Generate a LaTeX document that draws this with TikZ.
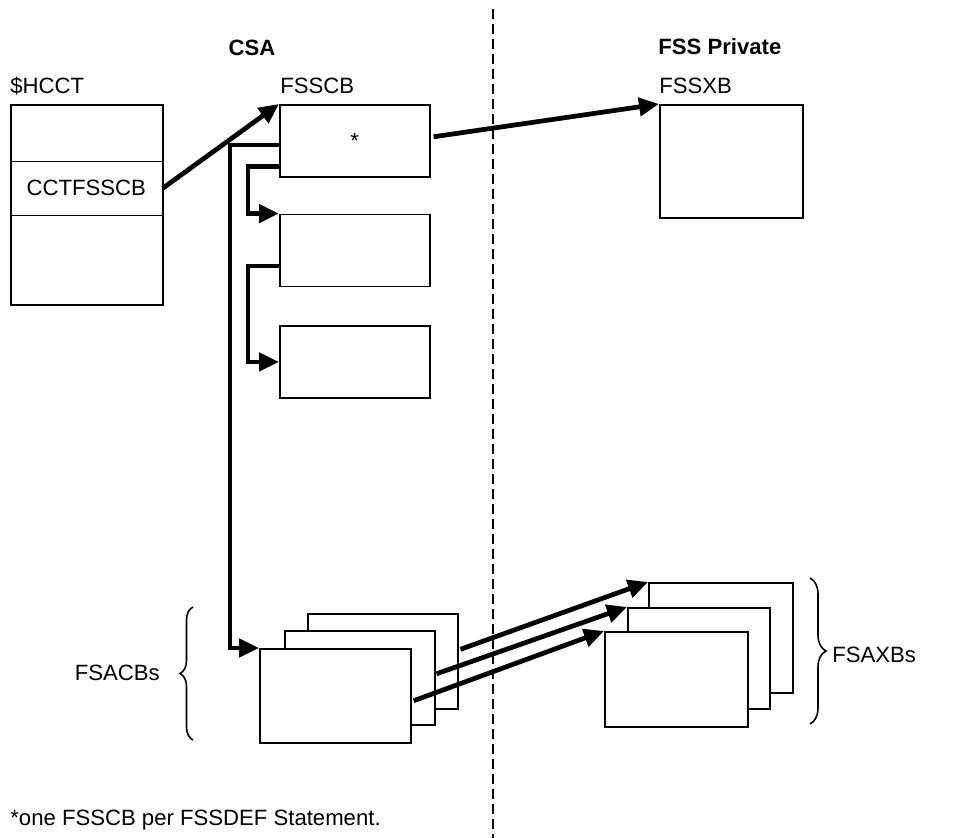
\documentclass[tikz,border=0pt]{standalone}
\usepackage{fontspec}
\setmainfont{Liberation Sans}
\usetikzlibrary{positioning,arrows.meta,decorations.pathreplacing}
\newcommand{\figfont}{\fontsize{12.6pt}{15pt}\selectfont}

\begin{document}
\begin{tikzpicture}[x=0.02cm, y=-0.02cm,
        font=\figfont,
        box/.style={draw, line width=0.9pt, fill=white, inner sep=0pt,
            minimum width=3cm, minimum height=1.44cm, anchor=north west},
        ptr/.style={line width=2.7pt, -{Triangle[length=4mm, width=3.6mm]}},
        lbl/.style={inner sep=0pt, anchor=base west},
        head/.style={font=\figfont\bfseries, inner sep=0pt},
        brc/.style={decorate, line width=0.9pt}]
        \useasboundingbox (0,0) rectangle (954,838);

        % Labels
        \node[head] (csa) at (252, 48) {CSA};
        \node[head, anchor=west] (fsspriv) at (658, 47) {FSS Private};
        \node[lbl] (hcctlbl) at (10, 94) {\$HCCT};
        \node[lbl] (fsscblbl) at (280, 94) {FSSCB};
        \node[lbl] (fssxblbl) at (659, 94) {FSSXB};
        \node[lbl] (note) at (10, 825) {*one FSSCB per FSSDEF Statement.};

        % Boundary
        \draw[line width=0.8pt, dash pattern=on 2mm off 1mm] (493, 9) -- (493, 838);

        % $HCCT
        \node[box, minimum width=3.04cm, minimum height=4cm] (hcct) at (10, 104) {};
        \node[anchor=north west, inner sep=0pt, minimum width=3.04cm,
            minimum height=1.08cm] (cctfsscb) at (10, 161) {CCTFSSCB};
        \draw[line width=0.5pt] (cctfsscb.north west) -- (cctfsscb.north east);
        \draw[line width=0.5pt] (cctfsscb.south west) -- (cctfsscb.south east);

        % FSSCB chain
        \node[box] (fsscb) at (279, 104) {*};
        \node[box, anchor=north, below=0.72cm of fsscb] (fsscbNext) {};
        \node[box, anchor=north, below=0.76cm of fsscbNext] (fsscbLast) {};

        % FSSXB
        \node[box, minimum width=2.86cm, minimum height=2.26cm] (fssxb) at (659, 104) {};

        % FSACBs
        \node[box, minimum height=1.9cm] (acbBack) at (307, 613) {};
        \node[box, minimum height=1.88cm] (acbMid) at (284, 630) {};
        \node[box, minimum width=3.02cm, minimum height=1.88cm] (acbFront) at (259, 648) {};
        \draw[brc, decoration={brace, amplitude=0.26cm}] (193, 740) -- (193, 607);
        \node[anchor=east, inner sep=0pt] (fsacbs) at (160, 673) {FSACBs};

        % FSAXBs
        \node[box, minimum width=2.88cm, minimum height=2.2cm] (axbBack) at (648, 582) {};
        \node[box, minimum width=2.84cm, minimum height=2.02cm] (axbMid) at (627, 607) {};
        \node[box, minimum width=2.86cm, minimum height=1.9cm] (axbFront) at (604, 631) {};
        \draw[brc, decoration={brace, amplitude=0.32cm}] (810, 578) -- (810, 724);
        \node[anchor=west, inner sep=0pt] (fsaxbs) at (832, 655) {FSAXBs};

        % Pointers
        \draw[ptr] (cctfsscb.east) -- (fsscb.north west);
        \draw[ptr] ([shift={(3,-4)}]fsscb.east) -- (fssxb.north west);
        \draw[ptr] ([shift={(0,-11)}]fsscb.south west) -- ++(-31,0) |- (fsscbNext.north west);
        \draw[ptr] ([shift={(0,-21)}]fsscbNext.south west) -- ++(-31,0) |- (fsscbLast.west);
        \draw[ptr] ([shift={(0,41)}]fsscb.north west) -- ++(-49,0) |- (acbFront.north west);
        \draw[ptr] ([shift={(2,-12)}]acbBack.east) -- (axbBack.north west);
        \draw[ptr] ([shift={(1,-4)}]acbMid.east) -- (axbMid.north west);
        \draw[ptr] ([shift={(2,5)}]acbFront.east) -- (axbFront.north west);
    \end{tikzpicture}
\end{document}
